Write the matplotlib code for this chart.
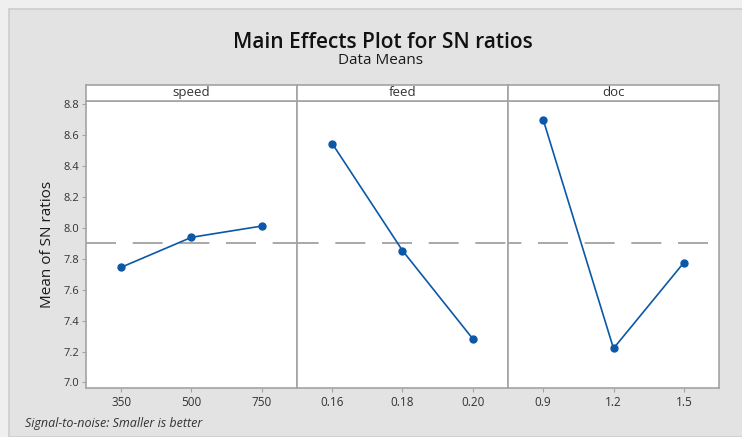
import matplotlib
matplotlib.use("Agg")
import matplotlib.pyplot as plt
from matplotlib.patches import Rectangle

# factor levels and mean SN ratios
factors = ["speed", "feed", "doc"]
speed_levels = ["350", "500", "750"]
speed_means = [7.745, 7.939, 8.012]
feed_levels = ["0.16", "0.18", "0.20"]
feed_means = [8.546, 7.853, 7.282]
doc_levels = ["0.9", "1.2", "1.5"]
doc_means = [8.701, 7.220, 7.775]
grand_mean = 7.90
y_ticks = [7.0, 7.2, 7.4, 7.6, 7.8, 8.0, 8.2, 8.4, 8.6, 8.8]

levels = [speed_levels, feed_levels, doc_levels]
means = [speed_means, feed_means, doc_means]

plt.rcParams["font.family"] = ["Open Sans", "DejaVu Sans"]
BLUE = "#0b58a8"
EDGE = "#a3a3a3"
TXT = "#333333"

W, H = 742, 437
fig = plt.figure(figsize=(W / 100, H / 100), dpi=100, facecolor="#efefef")
fig.patches.append(Rectangle((9 / W, 0), 1, 1 - 9 / H, transform=fig.transFigure,
                             facecolor="#e3e3e3", edgecolor="#cdcdcd", lw=1.2,
                             zorder=-10))

left, right = 86 / W, 719 / W
bottom, top = 1 - 388 / H, 1 - 101 / H
strip_top = 1 - 85 / H
pw = (right - left) / 3

for i, (name, lv, mv) in enumerate(zip(factors, levels, means)):
    ax = fig.add_axes([left + i * pw, bottom, pw, top - bottom])
    ax.set_facecolor("white")
    x = list(range(1, len(lv) + 1))
    # offset the dash phase so the reference line reads as one line across panels
    ax.axhline(grand_mean, color="#9a9a9a", lw=1.2, zorder=1,
               linestyle=(i * 5.0, (18, 10)))
    ax.plot(x, mv, color=BLUE, lw=1.2, marker="o", ms=5, mfc=BLUE, mec=BLUE,
            zorder=3)
    ax.set_xlim(0.5, 3.5)
    ax.set_ylim(6.964, 8.821)
    ax.set_xticks(x)
    ax.set_xticklabels(lv, fontsize=8.5, color=TXT)
    ax.tick_params(axis="x", length=3, width=0.8, color=EDGE, pad=3)
    for s in ax.spines.values():
        s.set_color(EDGE)
        s.set_linewidth(1.2)
    if i == 0:
        ax.set_yticks(y_ticks)
        ax.set_yticklabels([f"{t:.1f}" for t in y_ticks], fontsize=8, color=TXT)
        ax.tick_params(axis="y", length=3, width=0.8, color=EDGE, pad=2)
        ax.set_ylabel("Mean of SN ratios", fontsize=11, color="#1a1a1a",
                      labelpad=6)
    else:
        ax.set_yticks([])

    sx = fig.add_axes([left + i * pw, top, pw, strip_top - top])
    sx.set_facecolor("white")
    sx.set_xticks([]); sx.set_yticks([])
    for s in sx.spines.values():
        s.set_color(EDGE)
        s.set_linewidth(1.2)
    sx.text(0.5, 0.3, name, ha="center", va="baseline", fontsize=9.5,
            color=TXT, transform=sx.transAxes)

fig.text(383 / W, 1 - 43 / H, "Main Effects Plot for SN ratios", ha="center",
         va="center", fontsize=15, fontweight="semibold", color="#111111")
fig.text(380 / W, 1 - 61 / H, "Data Means", ha="center", va="center",
         fontsize=11, color="#1a1a1a")
fig.text(25 / W, 1 - 424 / H, "Signal-to-noise: Smaller is better",
         ha="left", va="center", fontsize=9, style="italic", color="#333333")

fig.savefig("out.png", dpi=100, facecolor=fig.get_facecolor())
